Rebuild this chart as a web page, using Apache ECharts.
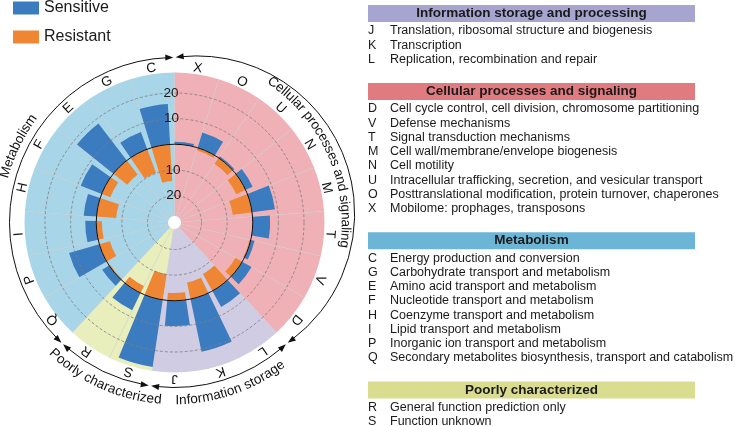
<!DOCTYPE html>
<html>
<head>
<meta charset="utf-8">
<script src="https://cdn.jsdelivr.net/npm/echarts@6/dist/echarts.min.js"></script>
<style>
html, body { margin: 0; padding: 0; background: #fff; }
#main { width: 735px; height: 426px; }
</style>
</head>
<body>
<div id="main"></div>
<script>
// COG categories, clockwise from 12 o'clock
var categories = ['X', 'O', 'U', 'N', 'M', 'T', 'V', 'D', 'L', 'K', 'J', 'S', 'R', 'Q', 'P', 'I', 'H', 'F', 'E', 'G', 'C'];
var sensitive = [1.0, 6.2, 0.8, 3.0, 9.0, 6.8, 1.5, 4.2, 7.1, 21.0, 9.9, 26.5, 7.5, 3.2, 12.3, 4.3, 5.0, 8.8, 18.2, 7.1, 15.8];
var resistant = [0, 1.0, 2.8, 4.0, 7.6, 0, 0.5, 3.0, 7.6, 6.6, 3.0, 10.2, 3.0, 0.5, 4.3, 2.2, 7.7, 3.6, 6.9, 9.8, 14.3];
var radiusLabels = [-20, -10, 10, 20];

// groups around the ring (same order as categories)
var groupNames = ['Cellular processes and signaling', 'Information storage', 'Poorly characterized', 'Metabolism'];
var groupSizes = [8, 3, 2, 8];
var groupColors = ['#efb1b6', '#cfcce4', '#e9eebd', '#a8d5e8'];

// right-hand key
var keyTitles = ['Information storage and processing', 'Cellular processes and signaling', 'Metabolism', 'Poorly characterized'];
var keyColors = ['#a8a4d0', '#e07b80', '#6cb5d7', '#dadd8f'];
var keyCodes = [
  ['J', 'K', 'L'],
  ['D', 'V', 'T', 'M', 'N', 'U', 'O', 'X'],
  ['C', 'G', 'E', 'F', 'H', 'I', 'P', 'Q'],
  ['R', 'S']
];
var keyTexts = [
  ['Translation, ribosomal structure and biogenesis', 'Transcription', 'Replication, recombination and repair'],
  ['Cell cycle control, cell division, chromosome partitioning', 'Defense mechanisms', 'Signal transduction mechanisms',
   'Cell wall/membrane/envelope biogenesis', 'Cell motility', 'Intracellular trafficking, secretion, and vesicular transport',
   'Posttranslational modification, protein turnover, chaperones', 'Mobilome: prophages, transposons'],
  ['Energy production and conversion', 'Carbohydrate transport and metabolism', 'Amino acid transport and metabolism',
   'Nucleotide transport and metabolism', 'Coenzyme transport and metabolism', 'Lipid transport and metabolism',
   'Inorganic ion transport and metabolism', 'Secondary metabolites biosynthesis, transport and catabolism'],
  ['General function prediction only', 'Function unknown']
];

var BLUE = '#3b7cc0';
var ORANGE = '#ee8633';
var FONT = '"Liberation Sans", Arial, sans-serif';

var CX = 174.5, CY = 222.5, R_IN = 6.5, R_OUT = 150;
var VMIN = -28, VMAX = 28;
var R_BASE = R_IN + (0 - VMIN) / (VMAX - VMIN) * (R_OUT - R_IN);
var step = 360 / categories.length;
var barShift = 1.6;

// background colour of each sector from its group
var bgData = [];
var boundaries = [0];
(function () {
  var k = 0;
  groupSizes.forEach(function (n, g) {
    for (var i = 0; i < n; i++) {
      bgData.push({ value: 1, itemStyle: { color: groupColors[g] } });
      k++;
    }
    boundaries.push(k * step);
  });
})();

var mctx = document.createElement('canvas').getContext('2d');
function textWidth(s, size, bold) {
  mctx.font = (bold ? 'bold ' : '') + size + 'px "Liberation Sans"';
  return mctx.measureText(s).width;
}
function rad(d) { return d * Math.PI / 180; }

// one glyph per element, laid along a circle
function arcText(str, cx, cy, r, midDeg, inward, size) {
  var total = textWidth(str, size);
  var span = total / r;
  var dir = inward ? -1 : 1;
  var start = rad(midDeg) - dir * span / 2;
  var out = [];
  for (var i = 0; i < str.length; i++) {
    var ch = str[i];
    var before = textWidth(str.slice(0, i), size);
    var w = textWidth(ch, size);
    var a = start + dir * (before + w / 2) / r;
    if (ch === ' ') continue;
    out.push({
      type: 'text', silent: true,
      x: cx + r * Math.sin(a), y: cy - r * Math.cos(a),
      rotation: inward ? Math.PI - a : -a,
      style: { text: ch, fontSize: size, fontFamily: FONT, fill: '#111', align: 'center', verticalAlign: 'middle' }
    });
  }
  return out;
}

// arc with arrowheads at both ends
function arrowArc(acx, acy, R, phiA, phiB) {
  var gap = 1.2, L = 8, H = 3;
  var out = [];
  var a0 = phiA + (gap + L * 0.6) / R, a1 = phiB - (gap + L * 0.6) / R;
  out.push({
    type: 'arc', silent: true,
    shape: { cx: acx, cy: acy, r: R, startAngle: a0 - Math.PI / 2, endAngle: a1 - Math.PI / 2, clockwise: true },
    style: { stroke: '#111', lineWidth: 1, fill: null }
  });
  [[phiA + gap / R, -1], [phiB - gap / R, 1]].forEach(function (e) {
    var p = e[0], s = e[1];
    var tx = acx + R * Math.sin(p), ty = acy - R * Math.cos(p);
    var dx = s * Math.cos(p), dy = s * Math.sin(p);
    var nx = Math.sin(p), ny = -Math.cos(p);
    var bx = tx - L * dx, by = ty - L * dy;
    out.push({
      type: 'polygon', silent: true,
      shape: { points: [[tx, ty], [bx + H * nx, by + H * ny], [bx - H * nx, by - H * ny]] },
      style: { fill: '#111' }
    });
  });
  return out;
}

var graphics = [];

// category letters
categories.forEach(function (c, i) {
  var a = rad((i + 0.5) * step);
  graphics.push({
    type: 'text', silent: true,
    x: CX + 156 * Math.sin(a), y: CY - 156 * Math.cos(a), rotation: -a,
    style: { text: c, fontSize: 13.5, fontFamily: FONT, fill: '#111', align: 'center', verticalAlign: 'middle' }
  });
});

// group arcs
var RING = 165;
function ringPoint(deg) {
  var a = rad(deg);
  return [CX + RING * Math.sin(a), CY - RING * Math.cos(a)];
}
for (var g = 0; g < groupSizes.length; g++) {
  var d0 = boundaries[g], d1 = boundaries[g + 1];
  if (g === 0) {
    // first arc bulges outward to make room for its label
    var mid = rad((d0 + d1) / 2), shift = 24;
    var ocx = CX + shift * Math.sin(mid), ocy = CY - shift * Math.cos(mid);
    var p0 = ringPoint(d0), p1 = ringPoint(d1);
    var R2 = Math.hypot(p0[0] - ocx, p0[1] - ocy);
    var f0 = Math.atan2(p0[0] - ocx, ocy - p0[1]);
    var f1 = Math.atan2(p1[0] - ocx, ocy - p1[1]);
    if (f1 < f0) f1 += 2 * Math.PI;
    graphics = graphics.concat(arrowArc(ocx, ocy, R2, f0, f1));
  } else {
    graphics = graphics.concat(arrowArc(CX, CY, RING, rad(d0), rad(d1)));
  }
}

// group labels along the ring
graphics = graphics.concat(arcText(groupNames[0], CX, CY, 171, 66, false, 13.5));
graphics = graphics.concat(arcText(groupNames[1], CX, CY, 178, 161, true, 13.5));
graphics = graphics.concat(arcText(groupNames[2], CX, CY, 178, 204, true, 13.5));
graphics = graphics.concat(arcText(groupNames[3], CX, CY, 176, 296, false, 13.5));

// right-hand key
(function () {
  var y = 13.5;
  var x0 = 368, x1 = 695;
  keyTitles.forEach(function (t, k) {
    graphics.push({
      type: 'rect', silent: true,
      shape: { x: x0, y: y - 8.5, width: x1 - x0, height: 17 },
      style: { fill: keyColors[k] }
    });
    graphics.push({
      type: 'text', silent: true, x: (x0 + x1) / 2, y: y,
      style: { text: t, fontSize: 13.5, fontWeight: 'bold', fontFamily: FONT, fill: '#1a1a1a', align: 'center', verticalAlign: 'middle' }
    });
    var ly = y + 17.5;
    keyCodes[k].forEach(function (code, j) {
      graphics.push({
        type: 'text', silent: true, x: x0, y: ly,
        style: { text: code, fontSize: 12.5, fontFamily: FONT, fill: '#1a1a1a', align: 'left', verticalAlign: 'middle' }
      });
      graphics.push({
        type: 'text', silent: true, x: 390, y: ly,
        style: { text: keyTexts[k][j], fontSize: 12.5, fontFamily: FONT, fill: '#1a1a1a', align: 'left', verticalAlign: 'middle' }
      });
      ly += 14.25;
    });
    y = ly - 14.25 + 32;
  });
})();

var chart = echarts.init(document.getElementById('main'), null, { renderer: 'canvas' });

var hidden = { show: false };
var option = {
  animation: false,
  backgroundColor: '#fff',
  legend: {
    data: ['Sensitive', 'Resistant'],
    orient: 'vertical',
    left: 8, top: -5,
    itemWidth: 26, itemHeight: 13, itemGap: 13,
    icon: 'rect',
    textStyle: { fontSize: 16, fontFamily: FONT, color: '#1a1a1a' }
  },
  polar: [
    { center: [CX, CY], radius: [R_IN, R_OUT] },
    { center: [CX, CY], radius: [R_IN, R_OUT] },
    { center: [CX, CY], radius: [0, R_BASE] }
  ],
  angleAxis: [
    { polarIndex: 0, type: 'category', data: categories, startAngle: 90 + barShift,
      axisLine: hidden, axisTick: hidden, axisLabel: hidden, splitLine: hidden },
    { polarIndex: 1, type: 'category', data: categories, startAngle: 90,
      axisLine: hidden, axisTick: hidden, axisLabel: hidden,
      splitLine: { show: true, lineStyle: { color: 'rgba(200,200,200,0.55)', width: 1 } } },
    { polarIndex: 2, type: 'value', min: 0, max: 1, startAngle: 90, z: 5,
      axisLine: { show: true, lineStyle: { color: '#111', width: 1 } },
      axisTick: hidden, axisLabel: hidden, splitLine: hidden }
  ],
  radiusAxis: [
    { polarIndex: 0, type: 'value', min: VMIN, max: VMAX, z: 6,
      axisLine: hidden, axisTick: hidden,
      axisLabel: {
        margin: 0, align: 'center', verticalAlign: 'middle',
        fontSize: 13.5, fontFamily: FONT, color: '#1a1a1a',
        formatter: function (v) { return radiusLabels.indexOf(v) >= 0 ? String(Math.abs(v)) : ''; }
      },
      splitLine: { show: true, lineStyle: { type: [3, 2], width: 0.8,
        color: ['rgba(0,0,0,0)', '#7d7d7d', '#7d7d7d', 'rgba(0,0,0,0)', '#7d7d7d', '#7d7d7d', 'rgba(0,0,0,0)'] } } },
    { polarIndex: 1, type: 'value', min: 0, max: 1, show: false },
    { polarIndex: 2, type: 'value', min: 0, max: 1, show: false }
  ],
  series: [
    { type: 'bar', coordinateSystem: 'polar', polarIndex: 1, data: bgData,
      barCategoryGap: '0%', z: -1, silent: true },
    { type: 'bar', name: 'Sensitive', coordinateSystem: 'polar', polarIndex: 0, stack: 'cog',
      data: sensitive, barCategoryGap: '19%', itemStyle: { color: BLUE } },
    { type: 'bar', name: 'Resistant', coordinateSystem: 'polar', polarIndex: 0, stack: 'cog',
      data: resistant.map(function (v) { return -v; }), barCategoryGap: '19%', itemStyle: { color: ORANGE } }
  ],
  graphic: { elements: graphics }
};

chart.setOption(option);
</script>
</body>
</html>
